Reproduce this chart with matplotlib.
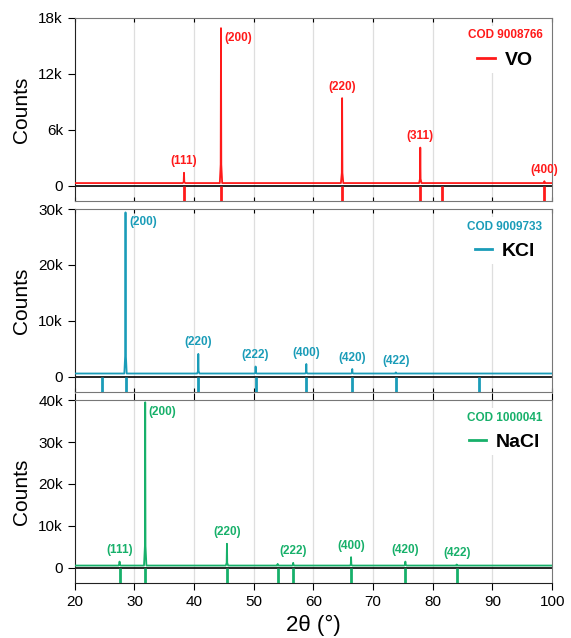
import numpy as np
import matplotlib
matplotlib.use("Agg")
import matplotlib.pyplot as plt

plt.rcParams['font.family'] = ['Liberation Sans', 'DejaVu Sans']

# Difratogramas: posicoes (2theta) e alturas dos picos
vo_pos = [38.3, 44.5, 64.8, 77.9, 98.7]
vo_alt = [1400, 16900, 9400, 4100, 500]
vo_hkl = ['(111)', '(200)', '(220)', '(311)', '(400)']
vo_ref = [38.3, 44.5, 64.8, 77.9, 81.6, 98.7]
vo_base = 300

kcl_pos = [28.5, 40.7, 50.3, 58.8, 66.5, 73.8]
kcl_alt = [29400, 4100, 1850, 2300, 1400, 800]
kcl_hkl = ['(200)', '(220)', '(222)', '(400)', '(420)', '(422)']
kcl_ref = [24.6, 28.5, 40.7, 50.3, 58.8, 66.5, 73.8, 87.7]
kcl_base = 600

nacl_pos = [27.5, 31.8, 45.5, 54.0, 56.6, 66.3, 75.4, 84.0]
nacl_alt = [1450, 39500, 5700, 900, 1150, 2500, 1450, 750]
nacl_hkl = ['(111)', '(200)', '(220)', '', '(222)', '(400)', '(420)', '(422)']
nacl_ref = [27.5, 31.8, 45.5, 54.0, 56.6, 66.3, 75.4, 84.0]
nacl_base = 500

paineis = [
    dict(pos=vo_pos, alt=vo_alt, hkl=vo_hkl, ref=vo_ref, base=vo_base, cor='#ff1a1a',
         ymax=18000, ymin=-1600, ticks=[0, 6000, 12000, 18000], tl=['0', '6k', '12k', '18k'],
         cod='COD 9008766', nome='VO'),
    dict(pos=kcl_pos, alt=kcl_alt, hkl=kcl_hkl, ref=kcl_ref, base=kcl_base, cor='#1a9cb8',
         ymax=30000, ymin=-2700, ticks=[0, 10000, 20000, 30000], tl=['0', '10k', '20k', '30k'],
         cod='COD 9009733', nome='KCl'),
    dict(pos=nacl_pos, alt=nacl_alt, hkl=nacl_hkl, ref=nacl_ref, base=nacl_base, cor='#17b06a',
         ymax=40000, ymin=-3700, ticks=[0, 10000, 20000, 30000, 40000], tl=['0', '10k', '20k', '30k', '40k'],
         cod='COD 1000041', nome='NaCl'),
]


def perfil(pos, alt, base, meia=0.2):
    # linha de base com picos estreitos
    xs, ys = [20], [base]
    for p, h in zip(pos, alt):
        xs += [p - meia, p - 0.05, p, p + 0.05, p + meia]
        ys += [base, base + 0.12 * (h - base), h, base + 0.12 * (h - base), base]
    xs.append(100)
    ys.append(base)
    return np.array(xs), np.array(ys)


fig, axes = plt.subplots(3, 1, figsize=(5.71, 6.38), dpi=100, sharex=True)
fig.subplots_adjust(left=0.131, right=0.967, top=0.972, bottom=0.086, hspace=0.045)

for ax, d in zip(axes, paineis):
    x, y = perfil(d['pos'], d['alt'], d['base'])
    ax.plot(x, y, color=d['cor'], lw=1.3, zorder=3)
    ax.vlines(d['ref'], d['ymin'], 0, color=d['cor'], lw=2, zorder=3)
    ax.axhline(0, color='black', lw=1.2, zorder=2)
    ax.set_xlim(20, 100)
    ax.set_ylim(d['ymin'], d['ymax'])
    ax.set_yticks(d['ticks'])
    ax.set_yticklabels(d['tl'])
    ax.set_xticks(range(20, 101, 10))
    for g in range(30, 100, 10):
        ax.axvline(g, color='#dedede', lw=0.9, zorder=0)
    ax.tick_params(axis='y', labelsize=11, direction='out', length=5)
    ax.tick_params(axis='x', top=True, direction='in', length=3, labelsize=11)
    ax.set_ylabel('Counts', fontsize=15)
    ax.yaxis.set_label_coords(-0.092, 0.5)
    for s in ['top', 'right']:
        ax.spines[s].set_color('#777777')
    ax.spines['left'].set_color('#222222')
    ax.spines['bottom'].set_color('#777777')

    faixa = d['ymax'] - d['ymin']
    for p, h, t in zip(d['pos'], d['alt'], d['hkl']):
        if not t:
            continue
        if h > 0.8 * d['ymax']:
            ax.text(p + 0.6, h - 0.02 * faixa, t, color=d['cor'], fontsize=8.5,
                    fontweight='bold', ha='left', va='top')
        else:
            ax.text(p, h + 0.03 * faixa, t, color=d['cor'], fontsize=8.5,
                    fontweight='bold', ha='center', va='bottom')

    leg = ax.legend([plt.Line2D([], [], color=d['cor'], lw=2)], [d['nome']],
                    loc='upper right', bbox_to_anchor=(1.0, 0.99), title=d['cod'],
                    prop={'size': 14, 'weight': 'bold'}, handlelength=0.9,
                    handletextpad=0.5, borderaxespad=0.3, framealpha=1,
                    edgecolor='none', fancybox=False, borderpad=0.2)
    leg.get_title().set_color(d['cor'])
    leg.get_title().set_fontweight('bold')
    leg.get_title().set_fontsize(8.5)
    leg.set_zorder(5)

axes[-1].tick_params(axis='x', bottom=True, direction='out', length=5)
axes[-1].spines['bottom'].set_color('#222222')
axes[-1].set_xlabel('2θ (°)', fontsize=16)

plt.savefig('out.png', dpi=100)
